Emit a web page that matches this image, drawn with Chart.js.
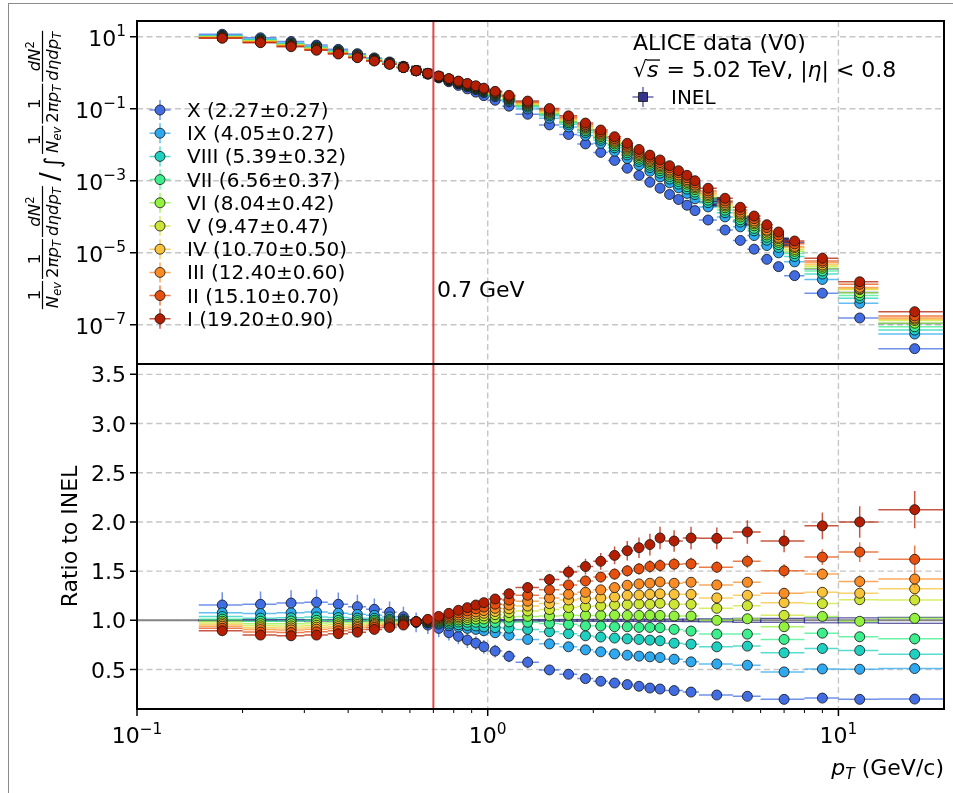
<!DOCTYPE html>
<html>
<head>
<meta charset="utf-8">
<script src="https://cdn.jsdelivr.net/npm/chart.js@4.4.0/dist/chart.umd.min.js"></script>
<style>
  html, body { margin: 0; padding: 0; background: #fff; }
  #wrap { position: relative; width: 953px; height: 793px; overflow: hidden; }
  #frame { position: absolute; left: 8px; top: 3px; width: 2000px; height: 2000px;
           border-left: 1px solid #8a8a8a; border-top: 1px solid #8a8a8a; }
  canvas { position: absolute; left: 0; top: 0; }
</style>
</head>
<body>
<div id="wrap">
  <div id="frame"></div>
  <canvas id="ratio" width="953" height="793"></canvas>
  <canvas id="spectra" width="953" height="793"></canvas>
</div>
<script>
// multiplicity classes (V0 estimator), lowest multiplicity first
const classNames = ['X', 'IX', 'VIII', 'VII', 'VI', 'V', 'IV', 'III', 'II', 'I'];
const classMult = ['2.27±0.27', '4.05±0.27', '5.39±0.32', '6.56±0.37', '8.04±0.42',
                   '9.47±0.47', '10.70±0.50', '12.40±0.60', '15.10±0.70', '19.20±0.90'];
const classColors = ['#426ce2', '#2ea8ef', '#1fd0c0', '#3cef8c', '#93f23f',
                     '#cde534', '#f8c23a', '#f98c25', '#e6500f', '#b41f04'];
const inelColor = '#34348c';

// INEL pT binning (used for the ratios)
const ptCoarse = [0.175, 0.225, 0.275, 0.325, 0.375, 0.425, 0.475, 0.525, 0.575, 0.625, 0.675, 0.725,
                  0.775, 0.825, 0.875, 0.925, 0.975, 1.05, 1.15, 1.3, 1.5, 1.7, 1.9, 2.1, 2.3, 2.5,
                  2.7, 2.9, 3.1, 3.4, 3.8, 4.5, 5.5, 7, 9, 11.5, 16.5];
const ptCoarseLo = [0.15, 0.2, 0.25, 0.3, 0.35, 0.4, 0.45, 0.5, 0.55, 0.6, 0.65, 0.7, 0.75, 0.8, 0.85,
                    0.9, 0.95, 1.0, 1.1, 1.2, 1.4, 1.6, 1.8, 2.0, 2.2, 2.4, 2.6, 2.8, 3.0, 3.2, 3.6,
                    4, 5, 6, 8, 10, 13];
const ptCoarseHi = [0.2, 0.25, 0.3, 0.35, 0.4, 0.45, 0.5, 0.55, 0.6, 0.65, 0.7, 0.75, 0.8, 0.85, 0.9,
                    0.95, 1.0, 1.1, 1.2, 1.4, 1.6, 1.8, 2.0, 2.2, 2.4, 2.6, 2.8, 3.0, 3.2, 3.6, 4,
                    5, 6, 8, 10, 13, 20];

// finer binning of the class spectra above 3.2 GeV/c
const ptFine = [0.175, 0.225, 0.275, 0.325, 0.375, 0.425, 0.475, 0.525, 0.575, 0.625, 0.675, 0.725,
                0.775, 0.825, 0.875, 0.925, 0.975, 1.05, 1.15, 1.3, 1.5, 1.7, 1.9, 2.1, 2.3, 2.5,
                2.7, 2.9, 3.1, 3.3, 3.5, 3.7, 3.9, 4.25, 4.75, 5.25, 5.75, 6.25, 6.75, 7.5, 9, 11.5, 16.5];
const ptFineLo = [0.15, 0.2, 0.25, 0.3, 0.35, 0.4, 0.45, 0.5, 0.55, 0.6, 0.65, 0.7, 0.75, 0.8, 0.85,
                  0.9, 0.95, 1.0, 1.1, 1.2, 1.4, 1.6, 1.8, 2.0, 2.2, 2.4, 2.6, 2.8, 3.0, 3.2, 3.4,
                  3.6, 3.8, 4.0, 4.5, 5.0, 5.5, 6.0, 6.5, 7, 8, 10, 13];
const ptFineHi = [0.2, 0.25, 0.3, 0.35, 0.4, 0.45, 0.5, 0.55, 0.6, 0.65, 0.7, 0.75, 0.8, 0.85, 0.9,
                  0.95, 1.0, 1.1, 1.2, 1.4, 1.6, 1.8, 2.0, 2.2, 2.4, 2.6, 2.8, 3.0, 3.2, 3.4, 3.6,
                  3.8, 4.0, 4.5, 5.0, 5.5, 6.0, 6.5, 7, 8, 10, 13, 20];

// normalised INEL spectrum, fine and coarse binning
const inelFine = [10.1, 8.01, 6.25, 4.93, 3.83, 2.97, 2.32, 1.84, 1.45, 1.156, 0.953, 0.779, 0.640,
                  0.530, 0.445, 0.375, 0.315, 0.249, 0.185, 0.122, 0.0715, 0.0425, 0.0258, 0.0160,
                  0.01004, 0.0064, 0.00425, 0.00290, 0.00205, 0.001446, 0.00105, 0.000768, 0.000544,
                  0.000336, 0.000177, 9.6e-5, 5.5e-5, 3.32e-5, 2.08e-5, 1.17e-5, 3.57e-6, 7.8e-7, 1.08e-7];
const inelCoarse = [10.1, 8.01, 6.25, 4.93, 3.83, 2.97, 2.32, 1.84, 1.45, 1.156, 0.953, 0.779, 0.640,
                    0.530, 0.445, 0.375, 0.315, 0.249, 0.185, 0.122, 0.0715, 0.0425, 0.0258, 0.0160,
                    0.01004, 0.0064, 0.00425, 0.00290, 0.00205, 0.00125, 0.000656, 0.000257, 7.55e-5,
                    1.93e-5, 3.57e-6, 7.8e-7, 1.08e-7];
const inelRatioErr = [0.006, 0.006, 0.006, 0.006, 0.006, 0.006, 0.006, 0.006, 0.006, 0.006, 0.006,
                      0.006, 0.006, 0.006, 0.006, 0.006, 0.006, 0.007, 0.007, 0.008, 0.008, 0.009,
                      0.009, 0.01, 0.01, 0.01, 0.011, 0.011, 0.012, 0.012, 0.013, 0.015, 0.02, 0.02,
                      0.025, 0.025, 0.03];

// class / INEL ratios on the INEL binning
const ratioX = [1.156, 1.163, 1.176, 1.184, 1.163, 1.139, 1.112, 1.081, 1.037, 0.980, 0.952, 0.918, 0.874,
                0.837, 0.800, 0.768, 0.731, 0.688, 0.634, 0.574, 0.496, 0.452, 0.408, 0.381, 0.363, 0.347,
                0.330, 0.312, 0.302, 0.286, 0.271, 0.241, 0.228, 0.197, 0.210, 0.197, 0.200];
const ratioIX = [1.077, 1.069, 1.076, 1.084, 1.073, 1.061, 1.051, 1.035, 1.012, 0.983, 0.973, 0.962, 0.945,
                 0.932, 0.918, 0.908, 0.894, 0.874, 0.847, 0.806, 0.761, 0.731, 0.700, 0.680, 0.659, 0.646,
                 0.636, 0.629, 0.622, 0.605, 0.578, 0.557, 0.544, 0.476, 0.506, 0.503, 0.510];
const ratioVIII = [1.038, 1.022, 1.026, 1.034, 1.028, 1.022, 1.020, 1.012, 0.999, 0.984, 0.978, 0.973, 0.963,
                   0.956, 0.948, 0.943, 0.933, 0.926, 0.920, 0.908, 0.884, 0.864, 0.843, 0.830, 0.820, 0.812,
                   0.806, 0.799, 0.792, 0.768, 0.758, 0.731, 0.738, 0.670, 0.714, 0.694, 0.656];
const ratioVII = [1.012, 0.991, 0.993, 1.000, 0.999, 0.997, 1.000, 0.997, 0.990, 0.985, 0.984, 0.985, 0.982,
                  0.983, 0.981, 0.981, 0.978, 0.979, 0.984, 0.980, 0.969, 0.959, 0.945, 0.942, 0.935, 0.935,
                  0.928, 0.928, 0.925, 0.908, 0.891, 0.860, 0.860, 0.806, 0.870, 0.833, 0.812];
const ratioVI = [0.991, 0.966, 0.966, 0.974, 0.975, 0.976, 0.984, 0.985, 0.983, 0.985, 0.989, 0.995, 0.998,
                 1.004, 1.007, 1.012, 1.014, 1.021, 1.032, 1.040, 1.044, 1.050, 1.050, 1.050, 1.052, 1.050,
                 1.050, 1.052, 1.050, 1.044, 1.044, 1.000, 1.016, 0.935, 1.040, 0.990, 1.020];
const ratioV = [0.973, 0.944, 0.943, 0.950, 0.954, 0.958, 0.969, 0.974, 0.978, 0.985, 0.993, 1.003, 1.012,
                1.023, 1.030, 1.040, 1.045, 1.058, 1.079, 1.095, 1.110, 1.130, 1.140, 1.146, 1.156, 1.160,
                1.166, 1.163, 1.173, 1.163, 1.163, 1.122, 1.149, 1.051, 1.170, 1.210, 1.207];
const ratioIV = [0.957, 0.925, 0.923, 0.930, 0.936, 0.942, 0.957, 0.965, 0.972, 0.986, 0.996, 1.011, 1.024,
                 1.038, 1.050, 1.063, 1.072, 1.090, 1.117, 1.145, 1.170, 1.207, 1.220, 1.228, 1.238, 1.255,
                 1.258, 1.265, 1.270, 1.265, 1.265, 1.228, 1.255, 1.180, 1.285, 1.275, 1.320];
const ratioIII = [0.941, 0.906, 0.903, 0.910, 0.918, 0.927, 0.945, 0.956, 0.967, 0.986, 1.000, 1.018, 1.036,
                  1.054, 1.070, 1.086, 1.099, 1.122, 1.156, 1.195, 1.228, 1.265, 1.285, 1.310, 1.333, 1.357,
                  1.370, 1.377, 1.390, 1.377, 1.387, 1.360, 1.387, 1.275, 1.470, 1.394, 1.420];
const ratioII = [0.920, 0.881, 0.876, 0.883, 0.894, 0.906, 0.928, 0.943, 0.961, 0.986, 1.004, 1.028, 1.051,
                 1.076, 1.096, 1.117, 1.135, 1.164, 1.206, 1.255, 1.310, 1.360, 1.400, 1.440, 1.470, 1.503,
                 1.523, 1.547, 1.557, 1.571, 1.574, 1.540, 1.600, 1.503, 1.643, 1.694, 1.620];
const ratioI = [0.894, 0.850, 0.843, 0.850, 0.864, 0.880, 0.908, 0.928, 0.952, 0.986, 1.010, 1.040, 1.071,
                1.102, 1.129, 1.156, 1.180, 1.217, 1.270, 1.333, 1.414, 1.490, 1.547, 1.600, 1.660, 1.707,
                1.738, 1.770, 1.837, 1.806, 1.837, 1.833, 1.898, 1.806, 1.960, 2.000, 2.125];

// statistical uncertainties of the ratios
const errX = [0.13, 0.13, 0.13, 0.13, 0.12, 0.12, 0.11, 0.11, 0.10, 0.10, 0.09, 0.09, 0.08, 0.08, 0.08,
              0.07, 0.07, 0.065, 0.06, 0.06, 0.04, 0.035, 0.03, 0.03, 0.025, 0.02, 0.02, 0.02, 0.02, 0.02,
              0.02, 0.015, 0.015, 0.015, 0.015, 0.015, 0.015];
const errIX = [0.07, 0.07, 0.07, 0.07, 0.065, 0.065, 0.06, 0.06, 0.055, 0.055, 0.05, 0.05, 0.05, 0.05, 0.05,
               0.045, 0.045, 0.04, 0.04, 0.035, 0.03, 0.03, 0.03, 0.025, 0.025, 0.025, 0.025, 0.025, 0.025,
               0.025, 0.025, 0.025, 0.025, 0.025, 0.03, 0.035, 0.04];
const errVIII = [0.05, 0.05, 0.05, 0.05, 0.05, 0.05, 0.05, 0.05, 0.05, 0.04, 0.04, 0.04, 0.04, 0.04, 0.04,
                 0.04, 0.035, 0.035, 0.035, 0.035, 0.03, 0.03, 0.03, 0.03, 0.03, 0.03, 0.03, 0.03, 0.03,
                 0.03, 0.03, 0.03, 0.035, 0.035, 0.04, 0.045, 0.05];
const errVII = [0.05, 0.05, 0.05, 0.05, 0.05, 0.05, 0.05, 0.05, 0.05, 0.04, 0.04, 0.04, 0.04, 0.04, 0.04,
                0.04, 0.035, 0.035, 0.035, 0.035, 0.03, 0.03, 0.03, 0.03, 0.03, 0.03, 0.03, 0.03, 0.03,
                0.03, 0.03, 0.035, 0.035, 0.04, 0.04, 0.05, 0.06];
const errVI = [0.05, 0.05, 0.05, 0.05, 0.05, 0.05, 0.05, 0.05, 0.05, 0.04, 0.04, 0.04, 0.04, 0.04, 0.04,
               0.04, 0.035, 0.035, 0.035, 0.035, 0.03, 0.03, 0.03, 0.03, 0.03, 0.03, 0.03, 0.03, 0.03,
               0.03, 0.03, 0.035, 0.04, 0.04, 0.045, 0.05, 0.06];
const errV = [0.05, 0.05, 0.05, 0.05, 0.05, 0.05, 0.05, 0.05, 0.05, 0.04, 0.04, 0.04, 0.04, 0.04, 0.04,
              0.04, 0.035, 0.035, 0.035, 0.035, 0.03, 0.03, 0.03, 0.03, 0.03, 0.03, 0.03, 0.03, 0.035,
              0.035, 0.035, 0.04, 0.04, 0.045, 0.05, 0.055, 0.07];
const errIV = [0.05, 0.05, 0.05, 0.05, 0.05, 0.05, 0.05, 0.05, 0.05, 0.04, 0.04, 0.04, 0.04, 0.04, 0.04,
               0.04, 0.035, 0.035, 0.035, 0.035, 0.035, 0.035, 0.035, 0.035, 0.035, 0.035, 0.04, 0.04,
               0.04, 0.04, 0.04, 0.04, 0.045, 0.05, 0.055, 0.06, 0.08];
const errIII = [0.045, 0.045, 0.045, 0.045, 0.045, 0.045, 0.045, 0.045, 0.045, 0.04, 0.04, 0.04, 0.04, 0.04,
                0.04, 0.04, 0.035, 0.035, 0.035, 0.035, 0.04, 0.04, 0.04, 0.04, 0.04, 0.04, 0.04, 0.04,
                0.04, 0.04, 0.04, 0.045, 0.05, 0.055, 0.06, 0.07, 0.09];
const errII = [0.045, 0.045, 0.045, 0.045, 0.045, 0.045, 0.045, 0.045, 0.045, 0.04, 0.04, 0.04, 0.04, 0.04,
               0.04, 0.04, 0.04, 0.04, 0.045, 0.045, 0.05, 0.05, 0.055, 0.055, 0.06, 0.06, 0.06, 0.065,
               0.065, 0.065, 0.065, 0.06, 0.07, 0.07, 0.08, 0.10, 0.14];
const errI = [0.05, 0.05, 0.05, 0.05, 0.05, 0.05, 0.05, 0.05, 0.05, 0.04, 0.04, 0.04, 0.04, 0.04, 0.04,
              0.04, 0.04, 0.045, 0.05, 0.055, 0.06, 0.07, 0.08, 0.085, 0.09, 0.10, 0.105, 0.11, 0.115,
              0.11, 0.115, 0.11, 0.12, 0.115, 0.135, 0.16, 0.19];

const ratios = [ratioX, ratioIX, ratioVIII, ratioVII, ratioVI, ratioV, ratioIV, ratioIII, ratioII, ratioI];
const ratioErrs = [errX, errIX, errVIII, errVII, errVI, errV, errIV, errIII, errII, errI];

// axis ranges and ticks
const ptMin = 0.1, ptMax = 20;
const specMin = Math.pow(10, -8.092), specMax = Math.pow(10, 1.436);
const ratioMin = 0.099, ratioMax = 3.605;
const specTicks = [1, -1, -3, -5, -7];          // exponents of ten
const ratioTicks = [0.5, 1.0, 1.5, 2.0, 2.5, 3.0, 3.5];
const ptMajor = [0.1, 1, 10];
const ptMinor = [0.2, 0.3, 0.4, 0.5, 0.6, 0.7, 0.8, 0.9, 2, 3, 4, 5, 6, 7, 8, 9];
const ptGrid = [1, 10];
const ptCut = 0.7;

// ---- helpers ----
const FONT = '"DejaVu Sans", sans-serif';
const TICK_PX = 22, LEG_PX = 20, TXT_PX = 22;

function fontOf(size, italic) { return (italic ? 'italic ' : '') + size + 'px ' + FONT; }

function coarseIndex(pt) {
  for (let j = 0; j < ptCoarse.length; j++) {
    if (pt >= ptCoarseLo[j] && pt < ptCoarseHi[j]) return j;
  }
  return ptCoarse.length - 1;
}

function pieceWidth(ctx, parts) {
  let w = 0;
  parts.forEach(p => { ctx.font = fontOf(p.size, p.it); w += ctx.measureText(p.t).width; });
  return w;
}
function drawParts(ctx, parts, x, y) {
  parts.forEach(p => {
    ctx.font = fontOf(p.size, p.it);
    ctx.fillText(p.t, x, y + (p.dy || 0));
    x += ctx.measureText(p.t).width;
  });
  return x;
}

function drawPow10(ctx, e, x, y, align) {
  const sup = e < 0 ? '\u2212' + (-e) : String(e);
  ctx.font = fontOf(TICK_PX);
  const wb = ctx.measureText('10').width;
  ctx.font = fontOf(TICK_PX * 0.7);
  const ws = ctx.measureText(sup).width;
  const w = wb + ws;
  const x0 = align === 'right' ? x - w : x - w / 2;
  ctx.font = fontOf(TICK_PX);
  ctx.fillText('10', x0, y);
  ctx.font = fontOf(TICK_PX * 0.7);
  ctx.fillText(sup, x0 + wb, y - TICK_PX * 0.42);
}

function dashedGrid(chart, xVals, yVals) {
  const ctx = chart.ctx, a = chart.chartArea, xs = chart.scales.x, ys = chart.scales.y;
  ctx.save();
  ctx.strokeStyle = '#c6c6c6';
  ctx.lineWidth = 1.4;
  ctx.setLineDash([6, 3.5]);
  ctx.beginPath();
  xVals.forEach(v => { const x = xs.getPixelForValue(v); ctx.moveTo(x, a.top); ctx.lineTo(x, a.bottom); });
  yVals.forEach(v => { const y = ys.getPixelForValue(v); ctx.moveTo(a.left, y); ctx.lineTo(a.right, y); });
  ctx.stroke();
  ctx.restore();
}

function cutLine(chart) {
  const ctx = chart.ctx, a = chart.chartArea;
  const x = chart.scales.x.getPixelForValue(ptCut);
  ctx.save();
  ctx.strokeStyle = '#de4848';
  ctx.lineWidth = 2;
  ctx.beginPath(); ctx.moveTo(x, a.top); ctx.lineTo(x, a.bottom); ctx.stroke();
  ctx.restore();
}

function frame(chart) {
  const ctx = chart.ctx, a = chart.chartArea;
  ctx.save();
  ctx.strokeStyle = '#000';
  ctx.lineWidth = 2;
  ctx.strokeRect(a.left, a.top, a.right - a.left, a.bottom - a.top);
  ctx.restore();
}

function yTicks(chart, vals) {
  const ctx = chart.ctx, a = chart.chartArea, ys = chart.scales.y;
  ctx.save();
  ctx.strokeStyle = '#000'; ctx.lineWidth = 1.5;
  ctx.beginPath();
  vals.forEach(v => { const y = ys.getPixelForValue(v); ctx.moveTo(a.left, y); ctx.lineTo(a.left - 7, y); });
  ctx.stroke();
  ctx.restore();
}

// horizontal (bin width) and vertical (stat.) error bars, drawn just before each dataset's markers
const errorBars = {
  id: 'errorBars',
  beforeDatasetDraw(chart, args) {
    const ds = chart.data.datasets[args.index];
    if (!ds.xLo) return;
    const ctx = chart.ctx, xs = chart.scales.x, ys = chart.scales.y, a = chart.chartArea;
    ctx.save();
    ctx.beginPath(); ctx.rect(a.left, a.top, a.right - a.left, a.bottom - a.top); ctx.clip();
    ctx.strokeStyle = ds.barColor;
    if (ds.band) {
      ctx.globalAlpha = 0.85; ctx.lineWidth = 1.2;
      ds.data.forEach((p, i) => {
        const x0 = xs.getPixelForValue(ds.xLo[i]), x1 = xs.getPixelForValue(ds.xHi[i]);
        const y0 = ys.getPixelForValue(p.y + ds.yErr[i]), y1 = ys.getPixelForValue(p.y - ds.yErr[i]);
        ctx.strokeRect(x0, y0, x1 - x0, y1 - y0);
      });
    } else {
      ctx.globalAlpha = 0.75; ctx.lineWidth = 1.5;
      ctx.beginPath();
      ds.data.forEach((p, i) => {
        const px = xs.getPixelForValue(p.x), py = ys.getPixelForValue(p.y);
        ctx.moveTo(xs.getPixelForValue(ds.xLo[i]), py);
        ctx.lineTo(xs.getPixelForValue(ds.xHi[i]), py);
        if (ds.yErr) {
          ctx.moveTo(px, ys.getPixelForValue(p.y - ds.yErr[i]));
          ctx.lineTo(px, ys.getPixelForValue(p.y + ds.yErr[i]));
        }
      });
      ctx.stroke();
    }
    ctx.restore();
  }
};

function legendMarker(ctx, x, y, color, square) {
  ctx.save();
  ctx.strokeStyle = color; ctx.globalAlpha = 0.75; ctx.lineWidth = 1.5;
  ctx.beginPath();
  ctx.moveTo(x - 10.5, y); ctx.lineTo(x + 10.5, y);
  ctx.moveTo(x, y - 10); ctx.lineTo(x, y + 10);
  ctx.stroke();
  ctx.globalAlpha = 1;
  ctx.fillStyle = color; ctx.strokeStyle = '#111'; ctx.lineWidth = 0.8;
  ctx.beginPath();
  if (square) ctx.rect(x - 4.5, y - 4.5, 9, 9); else ctx.arc(x, y, 5, 0, Math.PI * 2);
  ctx.fill(); ctx.stroke();
  ctx.restore();
}

// rotated y title of the spectra panel: the spectrum divided by its integral
const FR = 16.5, SUB = 11.5;
const fracNev = { num: [{ t: '1', size: FR }], den: [{ t: 'N', size: FR, it: true }, { t: 'ev', size: SUB, it: true, dy: 3 }] };
const fracPt = { num: [{ t: '1', size: FR }], den: [{ t: '2', size: FR }, { t: 'π', size: FR, it: true }, { t: 'p', size: FR, it: true }, { t: 'T', size: SUB, it: true, dy: 3 }] };
const fracD = { num: [{ t: 'dN', size: FR, it: true }, { t: '2', size: SUB, dy: -6 }], den: [{ t: 'd', size: FR, it: true }, { t: 'η', size: FR, it: true }, { t: 'dp', size: FR, it: true }, { t: 'T', size: SUB, it: true, dy: 3 }] };

function drawYTitle(ctx) {
  const groups = [
    { f: fracNev }, { gap: 2 }, { f: fracPt }, { gap: 2 }, { f: fracD }, { gap: 5 },
    { sym: '/', size: 26, dy: 16 }, { gap: 4 }, { sym: '∫', size: 22, dy: 17 }, { gap: 3 },
    { f: fracNev }, { gap: 2 }, { f: fracPt }, { gap: 2 }, { f: fracD }
  ];
  const widths = groups.map(g => {
    if (g.gap) return g.gap;
    if (g.sym) { ctx.font = fontOf(g.size); return ctx.measureText(g.sym).width; }
    return Math.max(pieceWidth(ctx, g.f.num), pieceWidth(ctx, g.f.den)) + 2;
  });
  const total = widths.reduce((s, w) => s + w, 0);
  ctx.save();
  ctx.translate(42.5, 170 + total / 2);
  ctx.rotate(-Math.PI / 2);
  ctx.fillStyle = '#000';
  let x = 0;
  groups.forEach((g, i) => {
    const w = widths[i];
    if (g.sym) {
      ctx.font = fontOf(g.size);
      ctx.fillText(g.sym, x, g.dy);
    } else if (g.f) {
      const wn = pieceWidth(ctx, g.f.num), wd = pieceWidth(ctx, g.f.den);
      drawParts(ctx, g.f.num, x + (w - wn) / 2, -2.5);
      drawParts(ctx, g.f.den, x + (w - wd) / 2, 15);
      ctx.fillRect(x, -0.6, w, 1.2);
    }
    x += w;
  });
  ctx.restore();
}

const spectraDecor = {
  id: 'spectraDecor',
  beforeDatasetsDraw(chart) {
    dashedGrid(chart, ptGrid, specTicks.map(e => Math.pow(10, e)));
  },
  afterDatasetsDraw(chart) { cutLine(chart); },
  afterDraw(chart) {
    const ctx = chart.ctx, ys = chart.scales.y;
    frame(chart);
    yTicks(chart, specTicks.map(e => Math.pow(10, e)));
    ctx.save();
    ctx.fillStyle = '#000';
    ctx.textBaseline = 'alphabetic';
    ctx.textAlign = 'left';
    specTicks.forEach(e => drawPow10(ctx, e, 126, ys.getPixelForValue(Math.pow(10, e)) + 9, 'right'));

    // multiplicity class legend
    classNames.forEach((n, i) => {
      const y = 110 + 23.2 * i;
      legendMarker(ctx, 160, y, classColors[i], false);
      ctx.fillStyle = '#000';
      ctx.font = fontOf(LEG_PX);
      ctx.fillText(n + ' (' + classMult[i] + ')', 187, y + 7);
    });

    // data set label and INEL entry
    ctx.font = fontOf(TXT_PX);
    ctx.fillText('ALICE data (V0)', 633, 50);
    const xEnd = drawParts(ctx, [{ t: '√', size: TXT_PX }], 633, 77);
    ctx.font = fontOf(TXT_PX, true);
    const sw = ctx.measureText('s').width;
    ctx.fillText('s', xEnd, 77);
    ctx.fillRect(xEnd - 0.5, 77 - 17.6, sw + 2, 1.3);
    drawParts(ctx, [
      { t: ' = 5.02 TeV, |', size: TXT_PX },
      { t: 'η', size: TXT_PX, it: true },
      { t: '| < 0.8', size: TXT_PX }
    ], xEnd + sw + 1, 77);
    legendMarker(ctx, 643, 97, inelColor, true);
    ctx.fillStyle = '#000';
    ctx.font = fontOf(LEG_PX);
    ctx.fillText('INEL', 671, 104);

    ctx.font = fontOf(TXT_PX);
    ctx.fillText(ptCut + ' GeV', 437, 297);

    drawYTitle(ctx);
    ctx.restore();
  }
};

const ratioDecor = {
  id: 'ratioDecor',
  beforeDatasetsDraw(chart) {
    const ctx = chart.ctx, a = chart.chartArea;
    dashedGrid(chart, ptGrid, ratioTicks);
    const y1 = chart.scales.y.getPixelForValue(1);
    ctx.save();
    ctx.strokeStyle = '#858585'; ctx.lineWidth = 2;
    ctx.beginPath(); ctx.moveTo(a.left, y1); ctx.lineTo(a.right, y1); ctx.stroke();
    ctx.restore();
  },
  afterDatasetsDraw(chart) { cutLine(chart); },
  afterDraw(chart) {
    const ctx = chart.ctx, a = chart.chartArea, xs = chart.scales.x, ys = chart.scales.y;
    frame(chart);
    yTicks(chart, ratioTicks);
    ctx.save();
    ctx.strokeStyle = '#000';
    ctx.lineWidth = 1.5;
    ctx.beginPath();
    ptMajor.forEach(v => { const x = xs.getPixelForValue(v); ctx.moveTo(x, a.bottom); ctx.lineTo(x, a.bottom + 7); });
    ctx.stroke();
    ctx.lineWidth = 1;
    ctx.beginPath();
    ptMinor.forEach(v => { const x = xs.getPixelForValue(v); ctx.moveTo(x, a.bottom); ctx.lineTo(x, a.bottom + 4); });
    ctx.stroke();

    ctx.fillStyle = '#000';
    ctx.textBaseline = 'alphabetic';
    ctx.font = fontOf(TICK_PX);
    ctx.textAlign = 'right';
    ratioTicks.forEach(v => ctx.fillText(v.toFixed(1), 126, ys.getPixelForValue(v) + 8));
    ctx.textAlign = 'left';
    ptMajor.forEach(v => drawPow10(ctx, Math.round(Math.log10(v)), xs.getPixelForValue(v), 743, 'center'));

    // axis titles
    const tParts = [{ t: 'p', size: TXT_PX, it: true }, { t: 'T', size: TXT_PX * 0.7, it: true, dy: 4 },
                    { t: ' (GeV/c)', size: TXT_PX }];
    drawParts(ctx, tParts, a.right - pieceWidth(ctx, tParts), 775);
    ctx.translate(70, (a.top + a.bottom) / 2);
    ctx.rotate(-Math.PI / 2);
    ctx.textAlign = 'center';
    ctx.font = fontOf(TXT_PX);
    ctx.fillText('Ratio to INEL', 0, 7);
    ctx.restore();
  }
};

// ---- datasets ----
// class spectra: INEL spectrum times the class ratio of the enclosing INEL bin
const spectraSets = [{
  label: 'INEL',
  data: ptCoarse.map((x, i) => ({ x, y: inelCoarse[i] })),
  xLo: ptCoarseLo, xHi: ptCoarseHi, barColor: inelColor,
  pointStyle: 'rect', pointRadius: 6.4,
  pointBackgroundColor: inelColor, pointBorderColor: '#151530', pointBorderWidth: 0.6,
  order: 20
}];
const ratioSets = [{
  label: 'INEL',
  data: ptCoarse.map((x, i) => ({ x, y: 1 })),
  xLo: ptCoarseLo, xHi: ptCoarseHi, yErr: inelRatioErr, barColor: inelColor, band: true,
  pointRadius: 0,
  order: 20
}];
classNames.forEach((n, c) => {
  const common = {
    label: n, barColor: classColors[c],
    pointStyle: 'circle', pointRadius: 5,
    pointBackgroundColor: classColors[c], pointBorderColor: '#111', pointBorderWidth: 0.8,
    order: classNames.length - 1 - c
  };
  spectraSets.push(Object.assign({
    data: ptFine.map((x, i) => ({ x, y: inelFine[i] * ratios[c][coarseIndex(x)] })),
    xLo: ptFineLo, xHi: ptFineHi
  }, common));
  ratioSets.push(Object.assign({
    data: ptCoarse.map((x, i) => ({ x, y: ratios[c][i] })),
    xLo: ptCoarseLo, xHi: ptCoarseHi, yErr: ratioErrs[c]
  }, common));
});

function panelOptions(pad, yScale) {
  return {
    responsive: false,
    animation: false,
    devicePixelRatio: 1,
    events: [],
    layout: { padding: pad },
    scales: {
      x: { type: 'logarithmic', min: ptMin, max: ptMax, bounds: 'data', display: false },
      y: yScale
    },
    plugins: { legend: { display: false }, tooltip: { enabled: false } }
  };
}

new Chart(document.getElementById('spectra'), {
  type: 'scatter',
  data: { datasets: spectraSets },
  options: panelOptions({ left: 137, right: 9, top: 21, bottom: 793 - 364 },
    { type: 'logarithmic', min: specMin, max: specMax, bounds: 'data', display: false }),
  plugins: [errorBars, spectraDecor]
});

new Chart(document.getElementById('ratio'), {
  type: 'scatter',
  data: { datasets: ratioSets },
  options: panelOptions({ left: 137, right: 9, top: 364, bottom: 793 - 709 },
    { type: 'linear', min: ratioMin, max: ratioMax, bounds: 'data', display: false }),
  plugins: [errorBars, ratioDecor]
});
</script>
</body>
</html>
